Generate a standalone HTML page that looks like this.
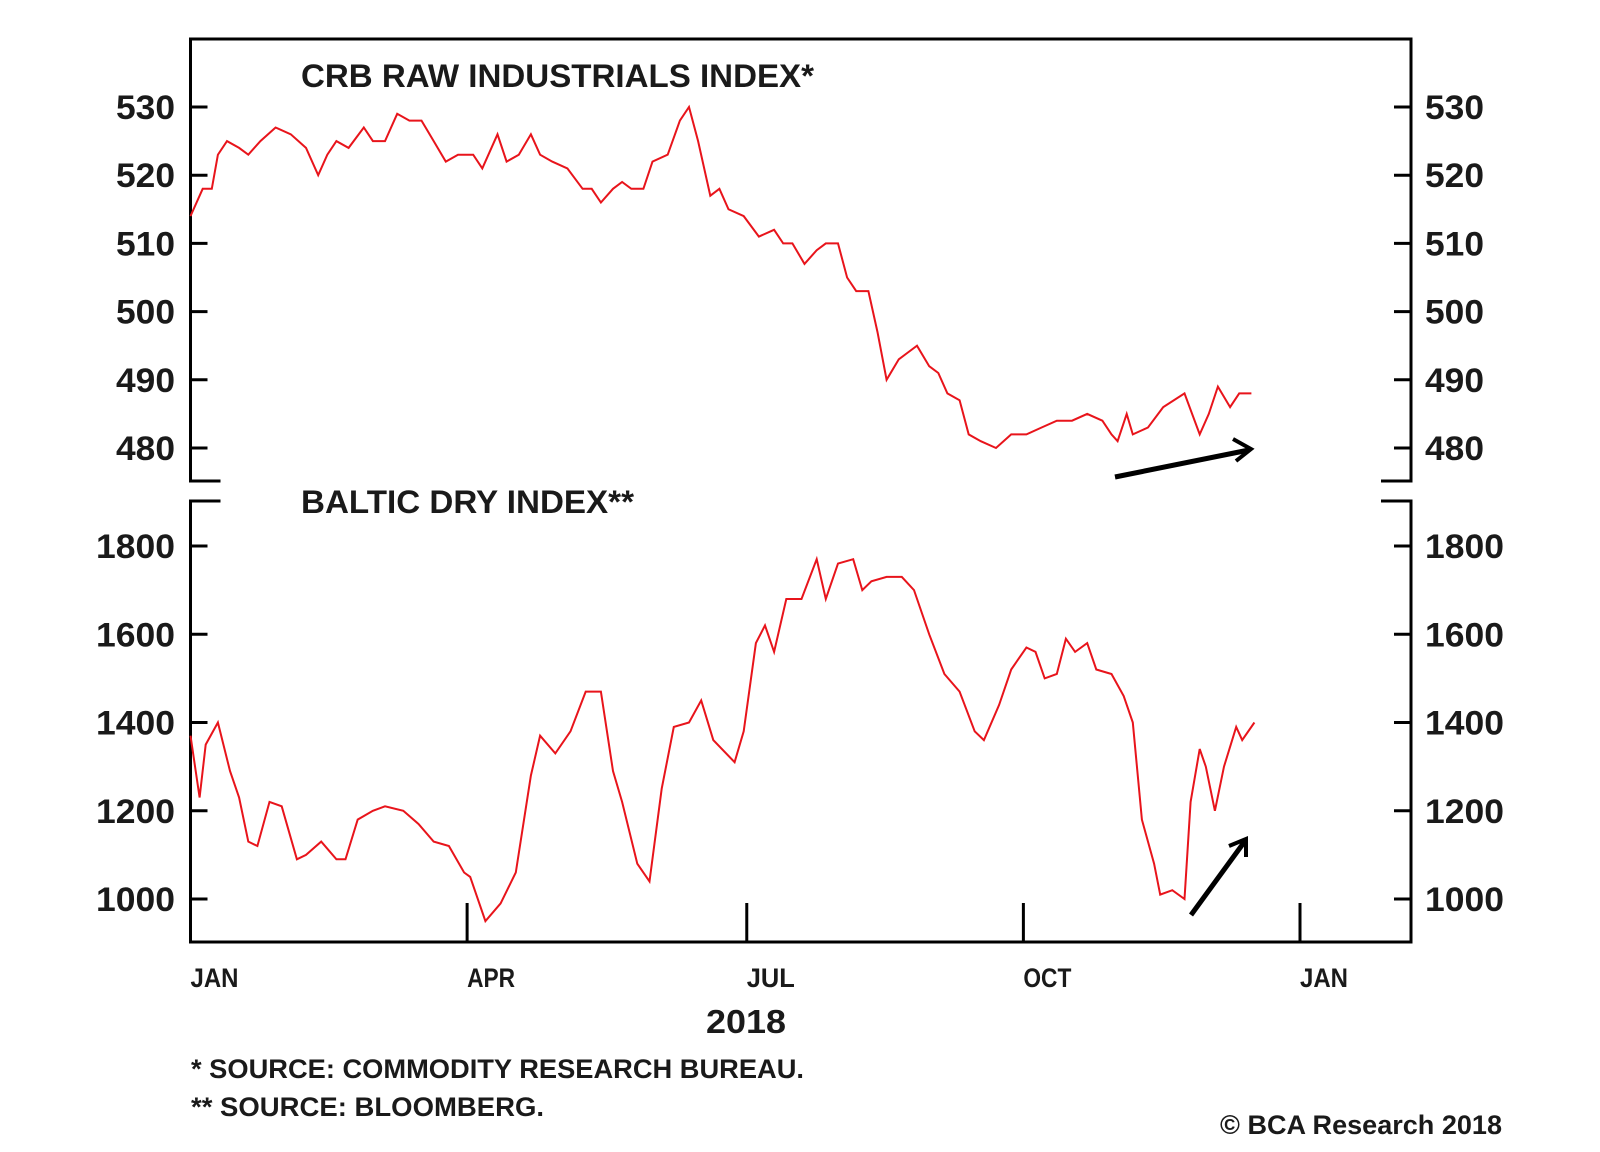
<!DOCTYPE html>
<html><head><meta charset="utf-8"><style>
html,body{margin:0;padding:0;background:#fff;}
svg{display:block;}
text{font-family:"Liberation Sans",sans-serif;font-weight:bold;fill:#1a1a1a;}
</style></head><body>
<svg id="chart" width="1600" height="1152" viewBox="0 0 1600 1152" xmlns="http://www.w3.org/2000/svg">
<g id="frame" stroke="#000" stroke-width="3" fill="none"></g>
<g id="labels"></g>
<g id="series"></g>
<text x="301" y="87" font-size="32" textLength="513" lengthAdjust="spacingAndGlyphs">CRB RAW INDUSTRIALS INDEX*</text>
<text x="301" y="513" font-size="32" textLength="333" lengthAdjust="spacingAndGlyphs">BALTIC DRY INDEX**</text>
<text x="746" y="1033" font-size="33" text-anchor="middle" textLength="80" lengthAdjust="spacingAndGlyphs">2018</text>
<text x="191" y="1078" font-size="27" textLength="613" lengthAdjust="spacingAndGlyphs">*  SOURCE: COMMODITY RESEARCH BUREAU.</text>
<text x="191" y="1116" font-size="27" textLength="353" lengthAdjust="spacingAndGlyphs">** SOURCE: BLOOMBERG.</text>
<text x="1502" y="1134" font-size="27" text-anchor="end" textLength="282" lengthAdjust="spacingAndGlyphs">© BCA Research 2018</text>
<line x1="1115" y1="477" x2="1249" y2="450" stroke="#000" stroke-width="5"/>
<polyline points="1233,439 1251,449 1236,461" fill="none" stroke="#000" stroke-width="4"/>
<line x1="1191" y1="915" x2="1245" y2="841" stroke="#000" stroke-width="5"/>
<polyline points="1229,846 1246,839 1246,857" fill="none" stroke="#000" stroke-width="4"/>
</svg>
<script>
const crbDays=[0,4,7,9,12,16,19,23,28,33,38,42,45,48,52,57,60,64,68,72,76,80,84,88,93,96,101,104,108,112,115,119,124,129,132,135,139,142,145,149,152,157,161,164,167,171,174,177,182,187,192,195,198,202,206,209,213,216,219,223,226,229,233,236,239,243,246,249,253,256,260,265,270,275,280,285,290,295,300,303,305,308,310,315,320,327,332,335,338,342,345,349];
const crbValues=[514,518,518,523,525,524,523,525,527,526,524,520,523,525,524,527,525,525,529,528,528,525,522,523,523,521,526,522,523,526,523,522,521,518,518,516,518,519,518,518,522,523,528,530,525,517,518,515,514,511,512,510,510,507,509,510,510,505,503,503,497,490,493,494,495,492,491,488,487,482,481,480,482,482,483,484,484,485,484,482,481,485,482,483,486,488,482,485,489,486,488,488];
const bdiDays=[0,3,5,9,13,16,19,22,26,30,35,38,43,48,51,55,60,64,70,75,80,85,90,92,97,102,107,112,115,120,125,130,135,139,142,147,151,155,159,164,168,172,179,182,186,189,192,196,201,206,209,213,218,221,224,229,234,238,243,248,253,258,261,266,270,275,278,281,285,288,291,295,298,303,307,310,313,317,319,323,327,329,332,334,337,340,344,346,350];
const bdiValues=[1370,1230,1350,1400,1290,1230,1130,1120,1220,1210,1090,1100,1130,1090,1090,1180,1200,1210,1200,1170,1130,1120,1060,1050,950,990,1060,1280,1370,1330,1380,1470,1470,1290,1220,1080,1040,1250,1390,1400,1450,1360,1310,1380,1580,1620,1560,1680,1680,1770,1680,1760,1770,1700,1720,1730,1730,1700,1600,1510,1470,1380,1360,1440,1520,1570,1560,1500,1510,1590,1560,1580,1520,1510,1460,1400,1180,1080,1010,1020,1000,1220,1340,1300,1200,1300,1390,1360,1400];
const crbTicks=[530,520,510,500,490,480];
const bdiTicks=[1800,1600,1400,1200,1000];
const monthLabels=["JAN","APR","JUL","OCT","JAN"];
const monthDays=[0,91,183,274,365];

const NS="http://www.w3.org/2000/svg";
const L=190.5,R=1411;
function xScale(d){return L+d*(1300-L)/365;}
function yCrb(v){return 107+(530-v)*(448-107)/50;}
function yBdi(v){return 546+(1800-v)*(899-546)/800;}
function mk(tag,attrs,parent){const e=document.createElementNS(NS,tag);for(const k in attrs)e.setAttribute(k,attrs[k]);parent.appendChild(e);return e;}
const frame=document.getElementById('frame'),labels=document.getElementById('labels'),series=document.getElementById('series');

let p=mk('path',{d:`M${L+30},481 H${L} V39 H${R} V481 H${R-30}`},frame);


p=mk('path',{d:`M${L+30},501 H${L} V942 H${R} V501 H${R-30}`},frame);



function yLabel(v,y,x,anchor,w,name){
 const a=mk('text',{x:x,y:y+12,'font-size':34,'text-anchor':anchor,textLength:w,lengthAdjust:'spacingAndGlyphs'},labels);
 a.textContent=v;
 
 
}
crbTicks.forEach(v=>{const y=yCrb(v);
 let t=mk('line',{x1:L,x2:L+17,y1:y,y2:y},frame);
 
 
 t=mk('line',{x1:R-17,x2:R,y1:y,y2:y},frame);
 
 
 yLabel(v,y,175,'end',59,'crb-left-tick-label');
 yLabel(v,y,1425,'start',59,'crb-right-tick-label');
});
bdiTicks.forEach(v=>{const y=yBdi(v);
 let t=mk('line',{x1:L,x2:L+17,y1:y,y2:y},frame);
 
 
 t=mk('line',{x1:R-17,x2:R,y1:y,y2:y},frame);
 
 
 yLabel(v,y,175,'end',79,'bdi-left-tick-label');
 yLabel(v,y,1425,'start',79,'bdi-right-tick-label');
});
monthDays.forEach((d,i)=>{const x=xScale(d);
 if(i>0){const t=mk('line',{x1:x,x2:x,y1:903,y2:942},frame);
  
  }
 const a=mk('text',{x:x,y:987,'font-size':27,textLength:48,lengthAdjust:'spacingAndGlyphs'},labels);a.textContent=monthLabels[i];
 
 
});
let l=mk('polyline',{points:crbDays.map((d,i)=>xScale(d).toFixed(1)+','+yCrb(crbValues[i]).toFixed(1)).join(' '),fill:'none',stroke:'#e8141b','stroke-width':2},series);


l=mk('polyline',{points:bdiDays.map((d,i)=>xScale(d).toFixed(1)+','+yBdi(bdiValues[i]).toFixed(1)).join(' '),fill:'none',stroke:'#e8141b','stroke-width':2},series);


</script>
</body></html>
